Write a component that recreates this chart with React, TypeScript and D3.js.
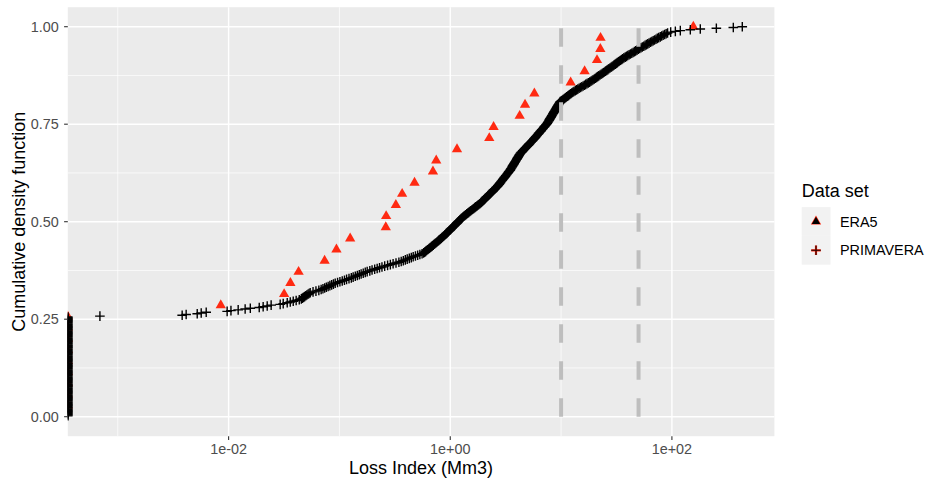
import React from "react";
import * as d3 from "d3";

// ---------------- data ----------------
const seriesNames = ["ERA5", "PRIMAVERA"];

// ERA5 loss index values (Mm3); zeros sit at -Inf on the log axis
const era5Loss = [
  0, 0, 0, 0, 0, 0, 0, 0, 0,
  0.0085, 0.0317, 0.0361, 0.0428, 0.0735, 0.094, 0.125, 0.262, 0.264, 0.323,
  0.368, 0.476, 0.698, 0.747, 1.15, 2.25, 2.46, 4.23, 4.73, 5.74,
  12.2, 16.3, 21.1, 22.6, 22.7, 156,
];

// PRIMAVERA: number of zero-loss events and the positive loss values
const primaveraZeroCount = 128;
const primaveraPositiveLoss = [
  0.00069, 0.00381, 0.00414, 0.00521, 0.00566, 0.00628, 0.0097, 0.0105, 0.0122, 0.0141, 0.0157,
  0.0189, 0.0205, 0.0223, 0.0242, 0.0292, 0.0311, 0.0338, 0.036, 0.0383, 0.0407, 0.0434,
  0.0453, 0.0463, 0.0474, 0.0485, 0.0497, 0.0508, 0.052, 0.0532, 0.0545, 0.0578,
  0.0614, 0.0652, 0.0684, 0.071, 0.0736, 0.0762, 0.0791, 0.082, 0.0851, 0.0883,
  0.0916, 0.0962, 0.101, 0.106, 0.111, 0.116, 0.122, 0.128, 0.133, 0.139,
  0.145, 0.151, 0.157, 0.164, 0.171, 0.178, 0.188, 0.197, 0.208, 0.219,
  0.23, 0.242, 0.256, 0.272, 0.288, 0.305, 0.324, 0.344, 0.361, 0.377,
  0.393, 0.409, 0.427, 0.445, 0.463, 0.485, 0.508, 0.532, 0.557, 0.575,
  0.588, 0.6, 0.611, 0.624, 0.637, 0.649, 0.662, 0.676, 0.689, 0.703,
  0.716, 0.73, 0.745, 0.759, 0.773, 0.787, 0.802, 0.818, 0.834, 0.849,
  0.865, 0.879, 0.893, 0.91, 0.925, 0.94, 0.955, 0.971, 0.989, 1.005,
  1.021, 1.038, 1.054, 1.072, 1.089, 1.107, 1.125, 1.143, 1.161, 1.18,
  1.199, 1.219, 1.239, 1.259, 1.279, 1.3, 1.324, 1.352, 1.38, 1.409,
  1.439, 1.469, 1.5, 1.531, 1.563, 1.596, 1.629, 1.663, 1.698, 1.738,
  1.774, 1.811, 1.849, 1.884, 1.914, 1.945, 1.977, 2.009, 2.042, 2.075,
  2.109, 2.143, 2.183, 2.218, 2.254, 2.291, 2.328, 2.366, 2.404, 2.443,
  2.483, 2.529, 2.57, 2.612, 2.655, 2.692, 2.723, 2.761, 2.793, 2.831,
  2.864, 2.904, 2.938, 2.979, 3.013, 3.055, 3.09, 3.133, 3.17, 3.214,
  3.251, 3.296, 3.334, 3.381, 3.42, 3.467, 3.499, 3.532, 3.573, 3.606,
  3.639, 3.673, 3.715, 3.75, 3.784, 3.828, 3.864, 3.899, 3.936, 3.981,
  4.018, 4.055, 4.102, 4.14, 4.178, 4.217, 4.266, 4.315, 4.385, 4.457,
  4.519, 4.592, 4.667, 4.732, 4.808, 4.887, 4.955, 5.035, 5.117, 5.188,
  5.272, 5.358, 5.445, 5.521, 5.61, 5.689, 5.768, 5.848, 5.929, 6.012,
  6.095, 6.18, 6.266, 6.353, 6.442, 6.531, 6.622, 6.714, 6.808, 6.902,
  6.998, 7.096, 7.194, 7.295, 7.396, 7.499, 7.568, 7.638, 7.727, 7.798,
  7.87, 7.943, 8.017, 8.11, 8.185, 8.26, 8.337, 8.414, 8.511, 8.59,
  8.67, 8.75, 8.831, 8.933, 9.016, 9.099, 9.183, 9.29, 9.376, 9.462,
  9.55, 9.661, 9.75, 9.84, 10.05, 10.28, 10.5, 10.74, 10.96, 11.19,
  11.46, 11.7, 11.94, 12.22, 12.47, 12.76, 13.06, 13.43, 13.8, 14.16,
  14.55, 14.96, 15.38, 15.81, 16.26, 16.67, 17.14, 17.62, 18.11, 18.58,
  19.01, 19.45, 19.95, 20.42, 20.89, 21.38, 21.88, 22.44, 22.96, 23.5,
  24.04, 24.6, 25.18, 25.82, 26.42, 26.98, 27.61, 28.25, 28.84, 29.51,
  30.13, 30.83, 31.55, 32.21, 32.96, 33.65, 34.43, 35.24, 35.97, 36.9,
  37.93, 38.99, 39.99, 41.11, 42.27, 43.45, 44.67, 45.92, 47.1, 48.42,
  49.77, 51.17, 52.6, 54.08, 55.72, 57.28, 58.88, 60.53, 62.23, 64.12,
  65.92, 67.76, 69.66, 71.78, 73.79, 76.03, 78.52, 80.91, 83.37, 86.1,
  88.72, 91.41, 97.5, 107.4, 119.1, 146.6, 180.3, 251.8, 358.1, 431.5,
];

const thresholdLines = [10, 50];
const xMajorTicks = [1e-2, 1, 1e2];
const xTickLabels = ["1e-02", "1e+00", "1e+02"];
const xMinorTicks = [1e-3, 1e-1, 1e1, 1e3];
const yMajorTicks = [0, 0.25, 0.5, 0.75, 1];
const yTickLabels = ["0.00", "0.25", "0.50", "0.75", "1.00"];
const yMinorTicks = [0.125, 0.375, 0.625, 0.875];

// ---------------- helpers ----------------
function ecdf(values: number[]) {
  const s = [...values].sort((a, b) => a - b);
  return s.map((v, i) => ({ v, p: (i + 1) / s.length }));
}

const FONT = "'Liberation Sans', Arial, Helvetica, sans-serif";
const W = 932;
const H = 485;
const PL = 67.8;
const PR = 774.4;
const PT = 7.2;
const PB = 436.2;
const RED = "#FF2A12";

export default function App() {
  const primaveraLoss = [
    ...new Array(primaveraZeroCount).fill(0),
    ...primaveraPositiveLoss,
  ];
  const era = ecdf(era5Loss);
  const prim = ecdf(primaveraLoss);

  const positives = [...era5Loss, ...primaveraLoss].filter((v) => v > 0);
  const lmin = Math.log10(d3.min(positives) as number);
  const lmax = Math.log10(d3.max(positives) as number);
  const pad = (lmax - lmin) * 0.05;
  const x = d3
    .scaleLog()
    .domain([Math.pow(10, lmin - pad), Math.pow(10, lmax + pad)])
    .range([PL, PR]);
  const y = d3.scaleLinear().domain([-0.05, 1.05]).range([PB, PT]);
  const px = (v: number) => (v > 0 ? x(v) : PL);

  const tri = d3.symbol(d3.symbolTriangle, 46)() as string;
  const triSmall = d3.symbol(d3.symbolTriangle, 30)() as string;
  const plus = "M-4.8,0H4.8M0,-4.8V4.8";
  const [dmin, dmax] = x.domain();

  return (
    <div style={{ position: "absolute", left: 0, top: 0 }}>
      <svg width={W} height={H} style={{ display: "block", background: "#fff" }}>
        <defs>
          <clipPath id="panel">
            <rect x={PL} y={PT} width={PR - PL} height={PB - PT} />
          </clipPath>
        </defs>
        <rect x={PL} y={PT} width={PR - PL} height={PB - PT} fill="#EBEBEB" />
        {/* minor grid */}
        {yMinorTicks.map((t) => (
          <line key={"ym" + t} x1={PL} x2={PR} y1={y(t)} y2={y(t)} stroke="#fff" strokeWidth={0.7} />
        ))}
        {xMinorTicks
          .filter((t) => t >= dmin && t <= dmax)
          .map((t) => (
            <line key={"xm" + t} x1={x(t)} x2={x(t)} y1={PT} y2={PB} stroke="#fff" strokeWidth={0.7} />
          ))}
        {/* major grid */}
        {yMajorTicks.map((t) => (
          <line key={"yM" + t} x1={PL} x2={PR} y1={y(t)} y2={y(t)} stroke="#fff" strokeWidth={1.4} />
        ))}
        {xMajorTicks.map((t) => (
          <line key={"xM" + t} x1={x(t)} x2={x(t)} y1={PT} y2={PB} stroke="#fff" strokeWidth={1.4} />
        ))}

        <g clipPath="url(#panel)">
          {era.map((d, i) => (
            <path key={"e" + i} d={tri} transform={`translate(${px(d.v)},${y(d.p)})`} fill={RED} />
          ))}
          {prim.map((d, i) => (
            <path
              key={"p" + i}
              d={plus}
              transform={`translate(${px(d.v)},${y(d.p)})`}
              stroke="#000"
              strokeWidth={1.4}
              fill="none"
            />
          ))}
          {thresholdLines.map((t) => (
            <line
              key={"th" + t}
              x1={x(t)}
              x2={x(t)}
              y1={y(0)}
              y2={y(1)}
              stroke="#BEBEBE"
              strokeWidth={4}
              strokeDasharray="18.4 18.6"
            />
          ))}
        </g>

        {/* y axis */}
        {yMajorTicks.map((t, i) => (
          <g key={"yt" + t}>
            <line x1={PL - 3.7} x2={PL} y1={y(t)} y2={y(t)} stroke="#333" strokeWidth={1.1} />
            <text
              x={PL - 9}
              y={y(t)}
              dy="0.35em"
              textAnchor="end"
              fontFamily={FONT}
              fontSize={14.4}
              fill="#4D4D4D"
            >
              {yTickLabels[i]}
            </text>
          </g>
        ))}
        {/* x axis */}
        {xMajorTicks.map((t, i) => (
          <g key={"xt" + t}>
            <line x1={x(t)} x2={x(t)} y1={PB} y2={PB + 3.7} stroke="#333" strokeWidth={1.1} />
            <text
              x={x(t)}
              y={PB + 17.5}
              textAnchor="middle"
              fontFamily={FONT}
              fontSize={14.4}
              fill="#4D4D4D"
            >
              {xTickLabels[i]}
            </text>
          </g>
        ))}
        <text x={(PL + PR) / 2} y={474} textAnchor="middle" fontFamily={FONT} fontSize={18} fill="#000">
          Loss Index (Mm3)
        </text>
        <text
          transform={`translate(25,${(PT + PB) / 2}) rotate(-90)`}
          textAnchor="middle"
          fontFamily={FONT}
          fontSize={18}
          fill="#000"
        >
          Cumulative density function
        </text>

        {/* legend */}
        <text x={801.7} y={196.5} fontFamily={FONT} fontSize={18} fill="#000">
          Data set
        </text>
        {seriesNames.map((name, i) => {
          const cy = 221.5 + i * 28.8;
          return (
            <g key={"lg" + name}>
              <rect x={801.7} y={cy - 14.4} width={28.8} height={28.8} fill="#F2F2F2" />
              {i === 0 ? (
                <g transform={`translate(816,${cy})`}>
                  <path d={tri} fill={RED} />
                  <path d={triSmall} fill="#000" />
                </g>
              ) : (
                <g transform={`translate(816,${cy})`}>
                  <path d={plus} stroke={RED} strokeWidth={2.2} fill="none" />
                  <path d={plus} stroke="#1a0000" strokeWidth={1.1} fill="none" />
                </g>
              )}
              <text x={840} y={cy} dy="0.35em" fontFamily={FONT} fontSize={14.4} fill="#000">
                {name}
              </text>
            </g>
          );
        })}
      </svg>
    </div>
  );
}
